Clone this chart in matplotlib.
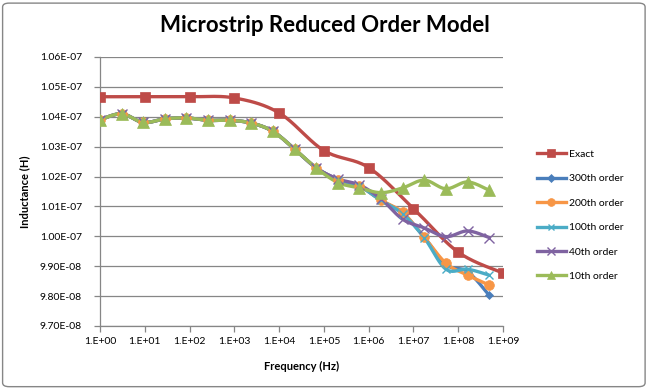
import numpy as np
import matplotlib
matplotlib.use("Agg")
import matplotlib.pyplot as plt
from matplotlib.patches import FancyBboxPatch
from matplotlib.ticker import FixedLocator, FuncFormatter

plt.rcParams['font.family'] = ['Lato', 'DejaVu Sans']

# frecuencias (Hz)
f_exact = [1e0, 1e1, 1e2, 1e3, 1e4, 1e5, 1e6, 1e7, 1e8, 1e9]
f_rom = [1.0, 3.04, 9.24, 28.1, 85.4, 259.6, 789, 2399, 7293, 2.217e4,
         6.739e4, 2.049e5, 6.227e5, 1.893e6, 5.75e6, 1.75e7, 5.32e7, 1.62e8, 4.91e8]

# inductancias (x 1e-7 H)
L_exact = [1.0467, 1.0467, 1.0467, 1.0463, 1.0413, 1.0287, 1.0230, 1.0093, 0.9947, 0.9877]
L_common = [1.0390, 1.0410, 1.0381, 1.0393, 1.0396, 1.0388, 1.0388, 1.0379, 1.0351,
            1.0292, 1.0229, 1.0190, 1.0168]
L_300 = L_common + [1.0120, 1.0078, 0.9997, 0.9905, 0.9882, 0.9803]
L_200 = L_common + [1.0121, 1.0080, 0.9997, 0.9910, 0.9870, 0.9837]
L_100 = L_common + [1.0120, 1.0075, 0.9995, 0.9890, 0.9890, 0.9870]
L_40 = L_common[:11] + [1.0192, 1.0172, 1.0125, 1.0057, 1.0028, 0.9999, 1.0018, 0.9996]
L_10 = L_common[:11] + [1.0180, 1.0162, 1.0146, 1.0162, 1.0188, 1.0159, 1.0182, 1.0154]

series = [
    ("Exact", f_exact, L_exact, "#BE4B48", "s", 7.5),
    ("300th order", f_rom, L_300, "#4A7EBB", "D", 4.5),
    ("200th order", f_rom, L_200, "#F79646", "o", 7),
    ("100th order", f_rom, L_100, "#4BACC6", "x", 6),
    ("40th order", f_rom, L_40, "#7F63A1", "x", 7),
    ("10th order", f_rom, L_10, "#9BBB59", "^", 8),
]


def suavizar(x, y, n=20):
    # curva tipo Catmull-Rom (como la línea suavizada de Excel)
    u = np.log10(x)
    v = np.asarray(y, dtype=float)
    P = np.column_stack([u, v])
    P = np.vstack([P[0], P, P[-1]])
    out = []
    t = np.linspace(0, 1, n, endpoint=False)
    for i in range(1, len(P) - 2):
        p0, p1, p2, p3 = P[i - 1], P[i], P[i + 1], P[i + 2]
        c = 0.5 * (2 * p1[:, None] + (-p0 + p2)[:, None] * t
                   + (2 * p0 - 5 * p1 + 4 * p2 - p3)[:, None] * t ** 2
                   + (-p0 + 3 * p1 - 3 * p2 + p3)[:, None] * t ** 3)
        out.append(c.T)
    out.append(P[-2][None, :])
    out = np.vstack(out)
    return 10 ** out[:, 0], out[:, 1]


fig = plt.figure(figsize=(6.49, 3.89), dpi=100)
ax = fig.add_axes([0.1541, 0.162, 0.6209, 0.6915])

for nombre, fx, L, col, mk, ms in series:
    xs, ys = suavizar(fx, np.array(L) * 1e-7)
    ax.plot(xs, ys, color=col, lw=2.4, solid_capstyle='round', zorder=3)
    mew = 1.0 if mk == "x" else 0.5
    ax.plot(fx, np.array(L) * 1e-7, ls='none', marker=mk, ms=ms, color=col,
            mec=col, mew=mew, zorder=4)
    ax.plot([], [], color=col, lw=2.4, marker=mk, ms=ms * 0.8, mew=mew, label=nombre)

ax.set_xscale('log')
ax.set_xlim(1, 1e9)
ax.set_ylim(9.7e-8, 1.06e-7)
ax.xaxis.set_major_locator(FixedLocator([10.0 ** k for k in range(10)]))
ax.xaxis.set_minor_locator(FixedLocator([]))
ax.xaxis.set_major_formatter(FuncFormatter(lambda v, p: "1.E+%02d" % round(np.log10(v))))
yt = [9.7e-8 + k * 1e-9 for k in range(10)]
ax.yaxis.set_major_locator(FixedLocator(yt))
ax.yaxis.set_major_formatter(FuncFormatter(lambda v, p: ("%.2E" % v)))
ax.grid(axis='y', color='#868686', lw=0.9)
ax.set_axisbelow(True)
for s in ['top', 'right']:
    ax.spines[s].set_visible(False)
for s in ['left', 'bottom']:
    ax.spines[s].set_color('#868686')
    ax.spines[s].set_linewidth(0.9)
ax.tick_params(axis='both', direction='out', color='#868686', labelsize=7.5,
               length=4, width=0.9, pad=4)
ax.tick_params(axis='y', pad=9)

ax.set_xlabel("Frequency (Hz)", fontsize=8, fontweight='bold', labelpad=11)
ax.set_ylabel("Inductance (H)", fontsize=8, fontweight='bold', labelpad=7)
fig.text(0.5, 0.935, "Microstrip Reduced Order Model", ha='center', va='center',
         fontsize=16, fontweight='bold')

ax.legend(loc='upper left', bbox_to_anchor=(1.06, 0.69), frameon=False, fontsize=7.5,
          handlelength=2.8, handletextpad=0.3, labelspacing=1.45)

fig.patches.append(FancyBboxPatch((0.004, 0.006), 0.99, 0.986, transform=fig.transFigure,
                                  boxstyle="round,pad=0,rounding_size=0.01",
                                  fc='none', ec='#868686', lw=1.0))

fig.savefig("out.png", dpi=100)
